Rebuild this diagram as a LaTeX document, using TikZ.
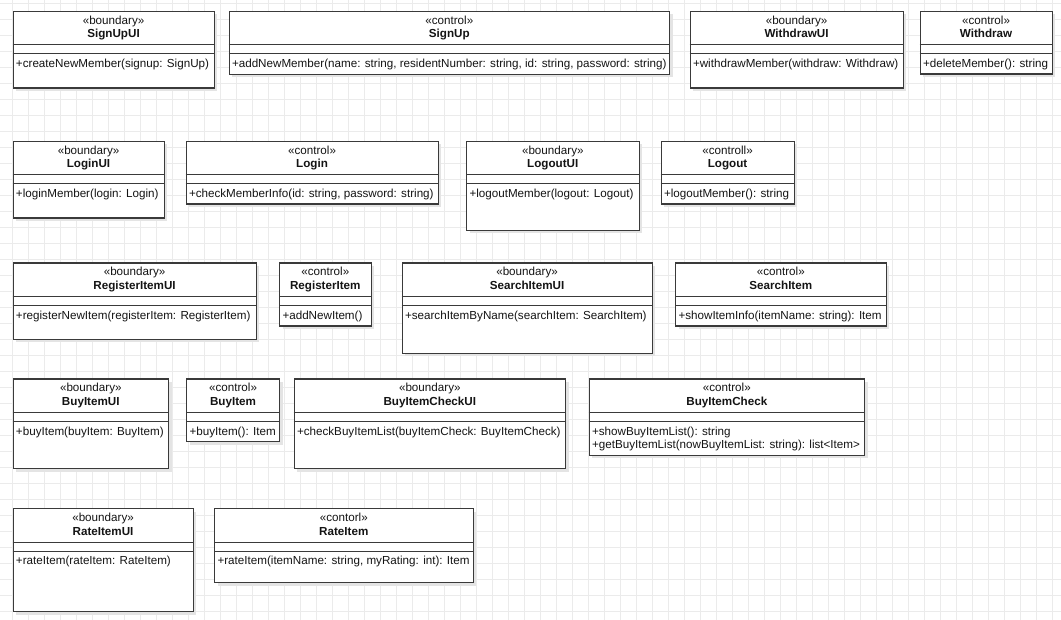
\documentclass[tikz,border=0pt]{standalone}
\usepackage{fontspec}
\setmainfont{Liberation Sans}
\definecolor{boxline}{HTML}{3A3A3A}
\definecolor{gridcol}{HTML}{EBEBEB}
\definecolor{shade}{HTML}{E4E4E4}
\definecolor{txt}{HTML}{141414}

% One UML class: name, x, y, width, height, stereotype, class name, operations
\newcommand{\umlclass}[8]{%
  \fill[shadowbox] (#2+3.5,#3+3.5) rectangle ++(#4,#5);
  \node[classbox, minimum width=#4pt, minimum height=#5pt] (#1) at (#2,#3) {};
  \draw[sepline] ([yshift=-34pt]#1.north west) -- ([yshift=-34pt]#1.north east);
  \draw[sepline] ([yshift=-43pt]#1.north west) -- ([yshift=-43pt]#1.north east);
  \node[stereo] (#1-stereo) at ([yshift=-13.3pt]#1.north) {«#6»};
  \node[cname] (#1-name) at ([yshift=-27pt]#1.north) {#7};
  \node[ops] (#1-ops) at ([xshift=3.3pt,yshift=-48.2pt]#1.north west) {#8};
}

\begin{document}
\begin{tikzpicture}[x=1pt,y=-1pt,
  classbox/.style={draw=boxline, line width=1.1pt, fill=white, inner sep=0pt, anchor=north west},
  sepline/.style={draw=boxline, line width=1pt},
  stereo/.style={font=\fontsize{11.65}{13.5}\selectfont, inner sep=0pt, anchor=base, text=txt},
  cname/.style={font=\fontsize{11.65}{13.5}\selectfont\bfseries, inner sep=0pt, anchor=base, text=txt},
  ops/.style={font=\fontsize{11.65}{13.3}\selectfont, inner sep=0pt, anchor=north west, align=left, text=txt},
  shadowbox/.style={fill=shade},
  gridline/.style={draw=gridcol, line width=0.8pt}]

% canvas and background grid
\fill[white] (0,0) rectangle (1061,620);
\useasboundingbox (0,0) rectangle (1061,620);
\foreach \gx in {12.3,28.3,...,1061} \draw[gridline] (\gx,0) -- (\gx,620);
\foreach \gy in {3.3,19.3,...,620} \draw[gridline] (0,\gy) -- (1061,\gy);

% member management
\umlclass{signupui}{12.5}{11}{201}{76.5}{boundary}{SignUpUI}{+createNewMember(signup: SignUp)}
\umlclass{signup}{228.5}{11}{440.5}{63}{control}{SignUp}{+addNewMember(name: string, residentNumber: string, id: string, password: string)}
\umlclass{withdrawui}{689.5}{11}{213}{76.5}{boundary}{WithdrawUI}{+withdrawMember(withdraw: Withdraw)}
\umlclass{withdraw}{919.5}{11}{132}{62.5}{control}{Withdraw}{+deleteMember(): string}

% session
\umlclass{loginui}{12.5}{141}{151}{76.5}{boundary}{LoginUI}{+loginMember(login: Login)}
\umlclass{login}{185.5}{141}{252}{62.5}{control}{Login}{+checkMemberInfo(id: string, password: string)}
\umlclass{logoutui}{466}{141}{172.5}{89}{boundary}{LogoutUI}{+logoutMember(logout: Logout)}
\umlclass{logout}{660.5}{141}{133}{62.5}{controll}{Logout}{+logoutMember(): string}

% items
\umlclass{registeritemui}{12.5}{262.5}{243}{76.5}{boundary}{RegisterItemUI}{+registerNewItem(registerItem: RegisterItem)}
\umlclass{registeritem}{279}{262.5}{91.5}{63}{control}{RegisterItem}{+addNewItem()}
\umlclass{searchitemui}{401.5}{262.5}{250}{90.5}{boundary}{SearchItemUI}{+searchItemByName(searchItem: SearchItem)}
\umlclass{searchitem}{675}{262.5}{210.5}{63}{control}{SearchItem}{+showItemInfo(itemName: string): Item}

% purchase
\umlclass{buyitemui}{12.5}{378.5}{155.5}{89.5}{boundary}{BuyItemUI}{+buyItem(buyItem: BuyItem)}
\umlclass{buyitem}{186}{378.5}{93}{62.5}{control}{BuyItem}{+buyItem(): Item}
\umlclass{buyitemcheckui}{293.5}{378.5}{271.5}{89.5}{boundary}{BuyItemCheckUI}{+checkBuyItemList(buyItemCheck: BuyItemCheck)}
\umlclass{buyitemcheck}{588.5}{378.5}{275.5}{76}{control}{BuyItemCheck}{+showBuyItemList(): string\\+getBuyItemList(nowBuyItemList: string): list<Item>}

% rating
\umlclass{rateitemui}{12.5}{508}{180}{103}{boundary}{RateItemUI}{+rateItem(rateItem: RateItem)}
\umlclass{rateitem}{214}{508}{258.5}{74}{contorl}{RateItem}{+rateItem(itemName: string, myRating: int): Item}

\end{tikzpicture}
\end{document}
